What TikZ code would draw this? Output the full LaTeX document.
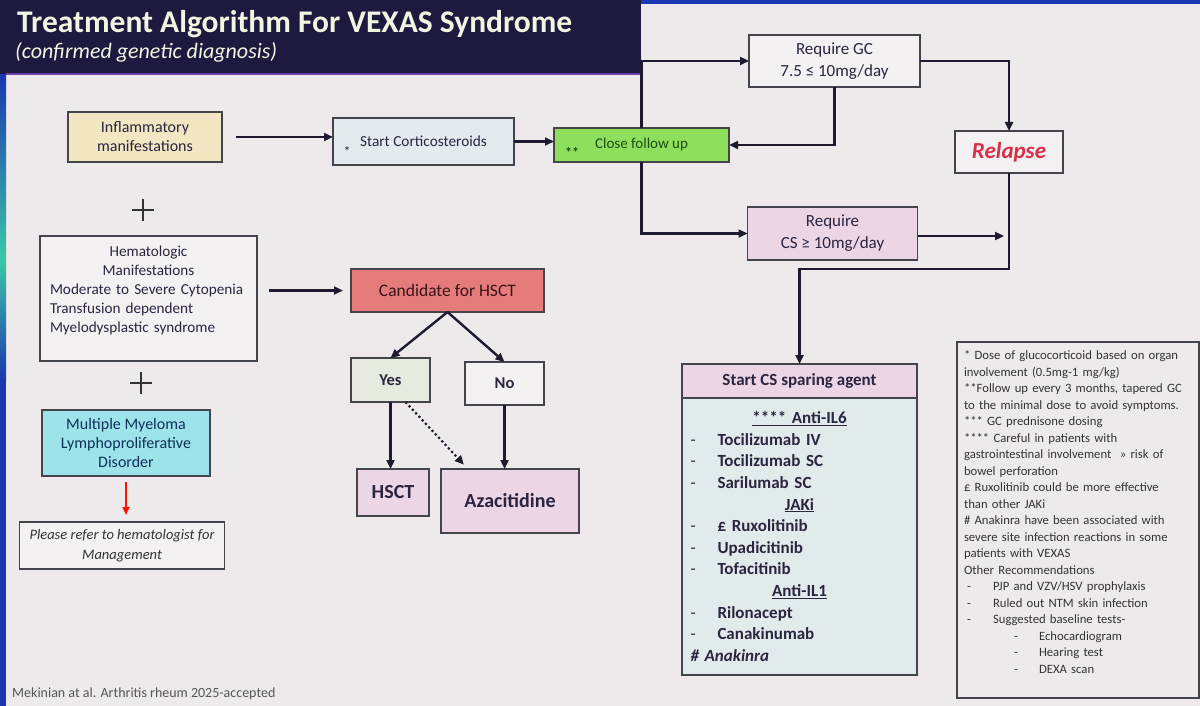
\documentclass[tikz,border=0pt]{standalone}
\usepackage{fontspec}
\setmainfont{Carlito}
\usetikzlibrary{arrows.meta}
\definecolor{bgc}{HTML}{EEEAEC}
\definecolor{navy}{HTML}{1C1A3E}
\definecolor{titletxt}{HTML}{F2F5E2}
\definecolor{edge}{HTML}{44444C}
\definecolor{txt}{HTML}{2B2540}
\definecolor{arrc}{HTML}{1E1A30}
\definecolor{yellowf}{HTML}{F3E6C2}
\definecolor{bluegf}{HTML}{E3EBEE}
\definecolor{greenf}{HTML}{8EE05C}
\definecolor{greentxt}{HTML}{1F4A14}
\definecolor{whitef}{HTML}{F3F1F2}
\definecolor{pinkf}{HTML}{ECD5E5}
\definecolor{redf}{HTML}{E67B7B}
\definecolor{redtxt}{HTML}{3A1418}
\definecolor{yesf}{HTML}{E6EADF}
\definecolor{cyanf}{HTML}{9DE3EA}
\definecolor{cyantxt}{HTML}{10305A}
\definecolor{listf}{HTML}{E2EBEB}
\definecolor{relred}{HTML}{D83048}
\definecolor{stripblue}{HTML}{1A36B0}
\definecolor{stripteal}{HTML}{3BC8A8}
\definecolor{notetxt}{HTML}{333333}
\definecolor{citetxt}{HTML}{555555}
\definecolor{purpline}{HTML}{7040B0}
\begin{document}
\begin{tikzpicture}[x=1pt,y=-1pt,
  box/.style={draw=edge, line width=1.4pt, inner sep=2pt, outer sep=0pt, align=center, text=txt, font=\fontsize{15}{19}\selectfont},
  conn/.style={draw=arrc, line width=2.4pt, -{Triangle[length=9pt,width=8pt]}},
  redconn/.style={draw=red!85!orange, line width=2pt, -{Triangle[length=8pt,width=7pt]}},
  dotconn/.style={draw=arrc, line width=2.2pt, dash pattern=on 2.2pt off 2.6pt, -{Triangle[length=9pt,width=8pt]}},
  plusline/.style={draw=black!80, line width=1.2pt},
  dashmark/.style={},
]
\useasboundingbox (0,0) rectangle (1200,706);
\fill[bgc] (0,0) rectangle (1200,706);
% photo edges
\shade[top color=stripblue, bottom color=stripteal] (0,74) rectangle (6,260);
\shade[top color=stripteal, bottom color=stripblue] (0,260) rectangle (6,380);
\fill[stripblue] (0,380) rectangle (6,706);
\fill[stripblue] (640,0) rectangle (1200,4);
% title band
\fill[navy] (0,0) rectangle (641,74);
\draw[purpline, line width=1.5pt] (6,74) -- (641,74);
\node[anchor=base west, inner sep=0, text=titletxt, font=\fontsize{31.5}{31.5}\selectfont\bfseries] (title) at (17,33) {Treatment Algorithm For VEXAS Syndrome};
\node[anchor=base west, inner sep=0, text=titletxt, font=\fontsize{22}{22}\selectfont\itshape] (subtitle) at (15,59) {(confirmed genetic diagnosis)};

% nodes
\node[box, fill=yellowf, minimum width=154, minimum height=50, font=\fontsize{16}{19}\selectfont] (infl) at (145,137) {Inflammatory\\manifestations};
\node[box, fill=bluegf, minimum width=181, minimum height=47, font=\fontsize{15.3}{19}\selectfont] (startcs) at (423.5,141.5) {Start Corticosteroids};
\node[text=txt, inner sep=0, font=\fontsize{14}{14}\selectfont] (star1) at (347,152) {*};
\node[box, fill=greenf, text=greentxt, minimum width=175, minimum height=34] (close) at (641.5,145) {Close follow up};
\node[text=greentxt, inner sep=0, font=\fontsize{14}{14}\selectfont\bfseries] (star2) at (572,152) {**};
\node[box, fill=whitef, minimum width=171, minimum height=52, font=\fontsize{17}{22}\selectfont] (reqgc) at (834.5,61) {Require GC\\7.5 ≤ 10mg/day};
\node[box, fill=whitef, minimum width=108, minimum height=42, text=relred, font=\fontsize{23}{23}\selectfont\bfseries\itshape] (relapse) at (1009,152) {Relapse};
\node[box, fill=pinkf, minimum width=170, minimum height=53, font=\fontsize{17}{22}\selectfont] (reqcs) at (832.5,233.5) {Require\\CS ≥ 10mg/day};
\node[box, fill=whitef, minimum width=217, minimum height=125, text width=197, align=left, font=\fontsize{15.2}{19}\selectfont] (hema) at (148.5,298.5) {\makebox[197pt][c]{Hematologic}\\\makebox[197pt][c]{Manifestations}\\Moderate to Severe Cytopenia\\Transfusion dependent\\Myelodysplastic syndrome\\~};
\node[box, fill=redf, text=redtxt, minimum width=193, minimum height=43, font=\fontsize{17.5}{19}\selectfont] (cand) at (447.5,290.5) {Candidate for HSCT};
\node[box, fill=yesf, minimum width=79, minimum height=44, font=\fontsize{16.5}{19}\selectfont\bfseries] (yes) at (390.5,380) {Yes};
\node[box, fill=whitef, minimum width=79, minimum height=43, font=\fontsize{16.5}{19}\selectfont\bfseries] (no) at (504.5,383.5) {No};
\node[box, fill=pinkf, minimum width=72, minimum height=47, font=\fontsize{20}{20}\selectfont\bfseries] (hsct) at (393,492.5) {HSCT};
\node[box, fill=pinkf, minimum width=138, minimum height=64, font=\fontsize{20}{20}\selectfont\bfseries] (aza) at (510,501) {Azacitidine};
\node[box, fill=cyanf, text=cyantxt, minimum width=168, minimum height=66, font=\fontsize{16}{19}\selectfont] (mm) at (126,443) {Multiple Myeloma\\Lymphoproliferative\\Disorder};
\node[box, fill=whitef, text=notetxt, minimum width=205, minimum height=47, font=\fontsize{14.5}{20}\selectfont\itshape] (refer) at (122,545.5) {Please refer to hematologist for\\Management};
\node[box, fill=pinkf, minimum width=235, minimum height=34, font=\fontsize{17}{19}\selectfont\bfseries] (cshead) at (799.5,381) {Start CS sparing agent};
\node[box, fill=listf, minimum width=235, minimum height=277, text width=218, align=left, font=\fontsize{17}{21.6}\selectfont\bfseries] (cslist) at (799.5,536.5) {%
\makebox[218pt][c]{\underline{**** Anti-IL6}}\\
\makebox[27pt][l]{\mdseries -}Tocilizumab IV\\
\makebox[27pt][l]{\mdseries -}Tocilizumab SC\\
\makebox[27pt][l]{\mdseries -}Sarilumab SC\\
\makebox[218pt][c]{\underline{JAKi}}\\
\makebox[27pt][l]{\mdseries -}£ Ruxolitinib\\
\makebox[27pt][l]{\mdseries -}Upadicitinib\\
\makebox[27pt][l]{\mdseries -}Tofacitinib\\
\makebox[218pt][c]{\underline{Anti-IL1}}\\
\makebox[27pt][l]{\mdseries -}Rilonacept\\
\makebox[27pt][l]{\mdseries -}Canakinumab\\
{\itshape \# Anakinra}};
\node[box, fill=bgc, text=notetxt, minimum width=242, minimum height=356, text width=228, align=left, font=\fontsize{12.7}{16.5}\selectfont] (notes) at (1078,520) {%
{}* Dose of glucocorticoid based on organ\\
involvement (0.5mg-1 mg/kg)\\
{}**Follow up every 3 months, tapered GC\\
to the minimal dose to avoid symptoms.\\
{}*** GC prednisone dosing\\
{}**** Careful in patients with\\
gastrointestinal involvement \ » risk of\\
bowel perforation\\
£ Ruxolitinib could be more effective\\
than other JAKi\\
\# Anakinra have been associated with\\
severe site infection reactions in some\\
patients with VEXAS\\
Other Recommendations\\
\hspace*{3pt}\makebox[26pt][l]{-}PJP and VZV/HSV prophylaxis\\
\hspace*{3pt}\makebox[26pt][l]{-}Ruled out NTM skin infection\\
\hspace*{3pt}\makebox[26pt][l]{-}Suggested baseline tests-\\
\hspace*{50pt}\makebox[25pt][l]{-}Echocardiogram\\
\hspace*{50pt}\makebox[25pt][l]{-}Hearing test\\
\hspace*{50pt}\makebox[25pt][l]{-}DEXA scan\\
~};
\node[anchor=base west, inner sep=0, text=citetxt, font=\fontsize{14}{14}\selectfont] (cite) at (12,697) {Mekinian at al. Arthritis rheum 2025-accepted};

% plus signs
\coordinate (p1) at (143,210);
\coordinate (p2) at (141,383);
\draw[plusline] ([xshift=-11pt]p1) -- ([xshift=11pt]p1) ([yshift=-11pt]p1) -- ([yshift=11pt]p1);
\draw[plusline] ([xshift=-11pt]p2) -- ([xshift=11pt]p2) ([yshift=-11pt]p2) -- ([yshift=11pt]p2);

% connectors
\draw[conn, shorten <=14pt] (infl.east) -- (infl.east -| startcs.west);
\draw[conn] (startcs.east) -- (startcs.east -| close.west);
\draw[conn] (close.north) -- (close.north |- reqgc.west) -- (reqgc.west);
\draw[conn] (close.south) -- (close.south |- reqcs.west) -- (reqcs.west);
\draw[conn] (reqgc.south) -- (reqgc.south |- close.east) -- (close.east);
\draw[conn] (reqgc.east) -| (relapse.north);
\coordinate (csend) at (1004,236);
\draw[conn] (reqcs.east |- csend) -- (csend);
\coordinate (turn) at (1009,269);
\draw[conn] (relapse.south) -- (relapse.south |- turn) -| (cshead.north);
\draw[conn, shorten <=12pt, shorten >=8pt] (hema.east |- cand.west) -- (cand.west);
\draw[conn] (cand.south) -- (yes.north);
\draw[conn] (cand.south) -- (no.north);
\draw[conn] (yes.south) -- (yes.south |- hsct.north);
\draw[dotconn, shorten >=6pt] ([xshift=15pt]yes.south) -- ([xshift=-42pt]aza.north);
\draw[conn] (no.south) -- (no.south |- aza.north);
\draw[redconn, shorten <=6pt, shorten >=7pt] (mm.south) -- (mm.south |- refer.north);
\end{tikzpicture}
\end{document}
